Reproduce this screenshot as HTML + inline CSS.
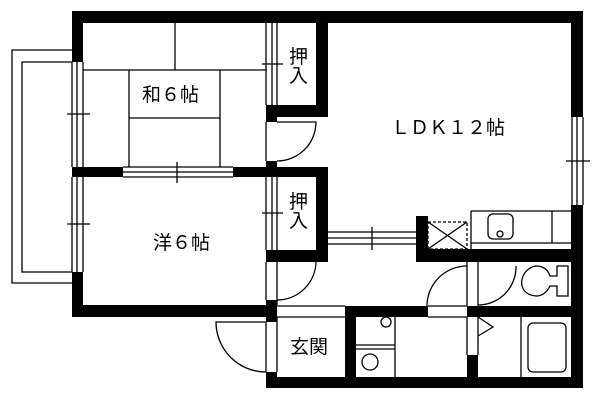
<!DOCTYPE html>
<html><head><meta charset="utf-8"><style>
html,body{margin:0;padding:0;background:#fff;}
svg{display:block;}
text{font-family:"Liberation Sans","Noto Sans CJK JP",sans-serif;font-size:19px;fill:#000;}
</style></head><body>
<svg width="600" height="400" viewBox="0 0 600 400" xmlns="http://www.w3.org/2000/svg">
<g fill="none" stroke="#000" stroke-width="1.3">
<!-- balcony -->
<path d="M72 50 H12 V283 H72"/>
<path d="M72 62 H22 V272 H72"/>
<!-- left windows -->
<path d="M72 62 V167 M77 62 V167 M83 62 V167"/>
<path d="M72 177 V272 M77 177 V272 M83 177 V272"/>
<path d="M67 114 H90 M67 224 H90"/>
<!-- tatami -->
<path d="M175 22 V70 M83 70 H267 M129 70 V167 M220 70 V167 M129 118 H220"/>
<!-- window between 和 and 洋 -->
<path d="M123 167 H233 M123 172 H233 M123 177 H233 M177 162 V183"/>
<!-- closet sliding doors -->
<path d="M266 22 V105 M272 22 V105 M277 22 V105 M262 64 H283"/>
<path d="M266 177 V250 M272 177 V250 M277 177 V250 M262 213 H283"/>
<!-- hall door arcs -->
<path d="M266 122 V161 M277 122 H316 A39 39 0 0 1 277 161"/>
<path d="M266 262 V300 M277 262 V305 M277 261 H316 A39 39 0 0 1 277 300"/>
<!-- LDK window to sliding -->
<path d="M328 232 H416 M328 238 H416 M328 244 H416 M372 227 V250"/>
<!-- right window -->
<path d="M572 117 V205 M577 117 V205 M583 117 V205 M566 161 H590"/>
<!-- entrance door -->
<path d="M266 322 V372 M277 317 V372 M266 322 H216 A50 50 0 0 0 266 372"/>
<!-- 玄関 line -->
<path d="M277 306 H345 M277 317 H345"/>
<!-- kitchen counter -->
<path d="M471 211 H571 M471 211 V249 M471 243 H571 M552 211 V243"/>
<rect x="488" y="214" width="25" height="25" rx="5"/>
<circle cx="500" cy="234" r="3"/>
<!-- washroom -->
<path d="M395 317 V377 M356 345 H395 M356 349 H395"/>
<circle cx="386" cy="322" r="5"/>
<circle cx="370" cy="362" r="8"/>
<!-- washroom door -->
<path d="M428 306 H467 M428 317 H467 M467 262 V306 M478 262 V306"/>
<path d="M427 306 A40 40 0 0 1 467 266"/>
<!-- toilet door -->
<path d="M516 266 A38 38 0 0 1 478 305"/>
<path d="M536 266 C520 268 514 294 536 296 C544 296 548 290 550 286 H557 V296 H568 V266 H557 V276 H550 C548 270 544 266 536 266 Z"/>
<!-- bath door -->
<path d="M467 317 V355 M478 317 V355 M478 317 L493 327 L478 336"/>
<path d="M521 317 V377"/>
<rect x="528" y="323" width="38" height="49" rx="5"/>
<!-- dashed box -->
<rect x="428" y="222" width="39" height="27" stroke-dasharray="3,2"/>
<path d="M428 222 L467 249 M467 222 L428 249"/>
</g>
<g fill="#000">
<!-- top & right -->
<rect x="72" y="11" width="511" height="12"/>
<rect x="571" y="11" width="12" height="106"/>
<rect x="571" y="205" width="12" height="183"/>
<!-- left wall -->
<rect x="72" y="11" width="11" height="51"/>
<rect x="72" y="167" width="11" height="10"/>
<rect x="72" y="272" width="11" height="45"/>
<rect x="72" y="305" width="205" height="12"/>
<!-- 和/洋 divider -->
<rect x="72" y="167" width="51" height="10"/>
<rect x="233" y="167" width="95" height="10"/>
<!-- closets -->
<rect x="316" y="11" width="12" height="106"/>
<rect x="266" y="105" width="62" height="12"/>
<rect x="266" y="117" width="11" height="5"/>
<rect x="266" y="161" width="11" height="6"/>
<rect x="316" y="167" width="12" height="95"/>
<rect x="266" y="250" width="62" height="12"/>
<rect x="266" y="300" width="11" height="22"/>
<rect x="266" y="372" width="11" height="16"/>
<!-- bottom -->
<rect x="266" y="377" width="317" height="11"/>
<rect x="345" y="306" width="11" height="82"/>
<rect x="345" y="306" width="83" height="11"/>
<rect x="467" y="306" width="104" height="11"/>
<rect x="467" y="355" width="11" height="33"/>
<!-- kitchen walls -->
<rect x="416" y="216" width="12" height="46"/>
<rect x="416" y="249" width="155" height="13"/>
</g>
<text x="142" y="101">和６帖</text>
<text x="153" y="249">洋６帖</text>
<text x="289" y="63" font-size="17">押</text>
<text x="289" y="82" font-size="17">入</text>
<text x="289" y="208" font-size="17">押</text>
<text x="289" y="227" font-size="17">入</text>
<text x="391" y="134">ＬＤＫ１２帖</text>
<text x="290" y="353">玄関</text>
</svg>
</body></html>
